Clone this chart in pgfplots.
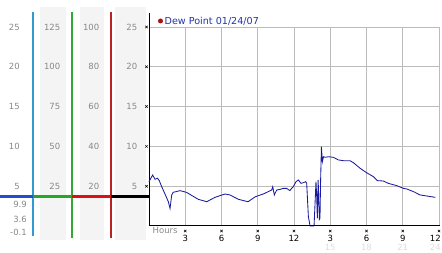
\documentclass[border=0pt]{standalone}
\usepackage{pgfplots}
\pgfplotsset{compat=1.18}
\usepackage{fontspec}
\setmainfont{DejaVu Sans}
\definecolor{gridc}{HTML}{BBBBBB}
\definecolor{colbg}{HTML}{F4F4F4}
\definecolor{labc}{HTML}{888888}
\definecolor{lightlab}{HTML}{DDDDDD}
\definecolor{dewline}{HTML}{1A1AA0}
\definecolor{legtext}{HTML}{2233AA}
\definecolor{vblue}{HTML}{2F9BD0}
\definecolor{hblue}{HTML}{1F4FD0}
\definecolor{vgreen}{HTML}{33AA33}
\definecolor{hgreen}{HTML}{22AA22}
\definecolor{vred}{HTML}{B82222}
\definecolor{hred}{HTML}{DD1111}
\definecolor{dotred}{HTML}{AA1111}
\begin{document}
\begin{tikzpicture}[x=1pt,y=1pt,font=\fontsize{8.5}{10}\selectfont]
\useasboundingbox (0,0) rectangle (442,253);
% gray columns
\fill[colbg] (40,13) rectangle (66,246);
\fill[colbg] (80,13) rectangle (104,246);
\fill[colbg] (115,13) rectangle (146,246);
\begin{axis}[
  at={(149pt,27pt)}, anchor=south west,
  scale only axis, width=290pt, height=199pt,
  xmin=0, xmax=24, ymin=0, ymax=25,
  axis x line*=bottom, axis y line*=left,
  axis line style={black, line width=1pt},
  xtick={3,6,...,24}, ytick={5,10,...,25},
  xticklabels={}, yticklabels={},
  major tick length=0pt,
  grid=major, grid style={gridc, line width=0.8pt},
  clip=false,
]
\addplot[dewline, line width=0.85pt] coordinates {
(0,5.57) (0.3,6.4) (0.5,5.87) (0.7,6.0) (0.85,5.7) (1.05,4.94) (1.3,4.1) (1.6,3.05) (1.74,2.2) (1.88,3.9) (2.0,4.23) (2.57,4.44) (3.1,4.23) (4.08,3.35) (4.78,3.05) (5.46,3.6) (6.29,4.02) (6.7,3.9) (7.4,3.35) (8.2,3.05) (8.8,3.68) (9.46,4.02) (10.15,4.52) (10.24,4.94) (10.37,3.9) (10.57,4.52) (10.85,4.6) (11.1,4.73) (11.38,4.73) (11.52,4.6) (11.66,4.44) (11.8,4.73) (11.94,4.94) (12.17,5.57) (12.36,5.78) (12.58,5.36) (12.77,5.44) (12.97,5.57) (13.05,5.36) (13.19,1.17) (13.33,0) (13.6,0) (13.66,0) (13.82,5.57) (13.88,3.68) (13.93,0.97) (14.0,5.78) (14.1,0.84) (14.15,0.97) (14.2,5.57) (14.27,9.96) (14.35,8.08) (14.44,8.7) (14.57,8.63) (14.85,8.7) (15.26,8.63) (15.67,8.3) (16.1,8.2) (16.64,8.2) (16.92,7.95) (17.47,7.25) (18.0,6.7) (18.57,6.2) (18.9,5.7) (19.4,5.65) (19.8,5.36) (20.5,5.07) (21.05,4.73) (21.33,4.65) (21.9,4.31) (22.43,3.9) (22.98,3.77) (23.7,3.6)
};
\end{axis}
% extended left axis line
\draw[black, line width=1pt] (149,226) -- (149,240);
\draw[black, line width=1pt] (148.5,27) -- (439.5,27);
% column lines
\draw[vblue, line width=1.1pt] (33,17) -- (33,241);
\draw[vgreen, line width=1.1pt] (72,15) -- (72,241);
\draw[vred, line width=1.1pt] (111,15) -- (111,241);
\draw[hblue, line width=2.4pt] (0,56.5) -- (33,56.5);
\draw[hgreen, line width=2.4pt] (33,56.5) -- (72,56.5);
\draw[hred, line width=2.4pt] (72,56.5) -- (111,56.5);
\draw[black, line width=2.4pt] (111,56.5) -- (149,56.5);
% column labels
\foreach \v/\a/\b/\c [evaluate=\v as \yy using 27+\v*7.96] in {25/125/100/25,20/100/80/20,15/75/60/15,10/50/40/10,5/25/20/5}{
  \node[labc, anchor=east, inner sep=0pt] at (20,\yy) {\v};
  \node[labc, anchor=east, inner sep=0pt] at (60.5,\yy) {\a};
  \node[labc, anchor=east, inner sep=0pt] at (99.5,\yy) {\b};
  \node[labc, anchor=east, inner sep=0pt] at (137.5,\yy) {\c};
  \draw[black, line width=0.5pt] (145.3,\yy-1.2) -- (147.7,\yy+1.2) (145.3,\yy+1.2) -- (147.7,\yy-1.2);
}
\node[labc, anchor=east, inner sep=0pt] at (27,49) {9.9};
\node[labc, anchor=east, inner sep=0pt] at (27,34) {3.6};
\node[labc, anchor=east, inner sep=0pt] at (27,21) {-0.1};
% legend
\fill[dotred] (160.5,232) circle (2.5);
\node[legtext, anchor=west, inner sep=0pt, font=\fontsize{9.6}{11}\selectfont] at (164.5,232) {Dew Point 01/24/07};
% x labels
\node[labc, anchor=west, inner sep=0pt] at (152.5,22.5) {Hours};
\foreach \h/\l in {3/3,6/6,9/9,12/12,15/3,18/6,21/9}{
  \pgfmathsetmacro{\xx}{149+\h*12.083}
  \node[black, inner sep=0pt] at (\xx,14.5) {\l};
  \draw[black, line width=0.5pt] (\xx-1.2,20.8) -- (\xx+1.2,23.2) (\xx-1.2,23.2) -- (\xx+1.2,20.8);
}
\node[black, inner sep=0pt, anchor=east] at (441,14.5) {12};
\draw[black, line width=0.5pt] (437.8,20.8) -- (440.2,23.2) (437.8,23.2) -- (440.2,20.8);
\foreach \h/\l in {15/15,18/18,21/21}{
  \pgfmathsetmacro{\xx}{149+\h*12.083}
  \node[lightlab, inner sep=0pt] at (\xx,5.5) {\l};
}
\node[lightlab, inner sep=0pt, anchor=east] at (441,5.5) {24};
\end{tikzpicture}
\end{document}
